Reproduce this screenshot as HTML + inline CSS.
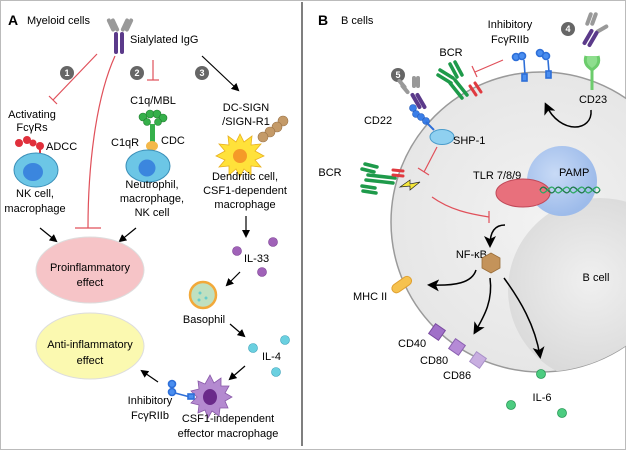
<!DOCTYPE html>
<html><head><meta charset="utf-8"><style>
html,body{margin:0;padding:0;background:#fff}
svg{display:block;font-family:"Liberation Sans",Arial,sans-serif}
</style></head><body>
<svg width="626" height="450" viewBox="0 0 626 450" xmlns="http://www.w3.org/2000/svg">
<defs>
<marker id="ah" markerWidth="8" markerHeight="8" refX="6" refY="4" orient="auto" markerUnits="userSpaceOnUse"><path d="M0,0 L8,4 L0,8 Z" fill="#000"/></marker>
<marker id="ah2" markerWidth="12" markerHeight="12" refX="9" refY="6" orient="auto" markerUnits="userSpaceOnUse"><path d="M0,0 L12,6 L0,12 L3,6 Z" fill="#000"/></marker>
<radialGradient id="cellg" cx="0.5" cy="0.5" r="0.6"><stop offset="0" stop-color="#f2f2f2"/><stop offset="1" stop-color="#e4e4e4"/></radialGradient>
<radialGradient id="nucg" cx="0.45" cy="0.45" r="0.6"><stop offset="0" stop-color="#f0f0f0"/><stop offset="1" stop-color="#d6d6d6"/></radialGradient>
<radialGradient id="pampg" cx="0.4" cy="0.4" r="0.6"><stop offset="0" stop-color="#c8daf6"/><stop offset="1" stop-color="#9dbbea"/></radialGradient>
<clipPath id="cc"><circle cx="541" cy="222" r="150"/></clipPath>
</defs>
<rect x="0.5" y="0.5" width="625" height="449" fill="#fff" stroke="#bbb"/>
<line x1="302" y1="2" x2="302" y2="446" stroke="#555" stroke-width="1.5"/>

<!-- ===== Panel A ===== -->
<text x="8" y="25" font-size="14" font-weight="bold">A</text>
<text x="27" y="24" font-size="11">Myeloid cells</text>
<g>
<rect x="109" y="18" width="4" height="14" rx="2" fill="#999" transform="rotate(-25 111 25)"/>
<rect x="113" y="18" width="4" height="14" rx="2" fill="#999" transform="rotate(-25 115 25)"/>
<rect x="123" y="18" width="4" height="14" rx="2" fill="#999" transform="rotate(25 125 25)"/>
<rect x="127" y="18" width="4" height="14" rx="2" fill="#999" transform="rotate(25 129 25)"/>
<rect x="114" y="32" width="4" height="22" rx="2" fill="#5b3a8a"/>
<rect x="120" y="32" width="4" height="22" rx="2" fill="#5b3a8a"/>
</g>
<text x="130" y="43" font-size="11">Sialylated IgG</text>
<g font-size="9" fill="#fff" text-anchor="middle" font-weight="bold">
<circle cx="67" cy="73" r="7" fill="#666"/><text x="67" y="76">1</text>
<circle cx="137" cy="73" r="7" fill="#666"/><text x="137" y="76">2</text>
<circle cx="202" cy="73" r="7" fill="#666"/><text x="202" y="76">3</text>
</g>
<g stroke="#e0505a" stroke-width="1.2" fill="none">
<line x1="97" y1="54" x2="53" y2="100"/><line x1="49" y1="96" x2="57" y2="104"/>
<path d="M115,56 C95,100 88,170 88,228"/><line x1="75" y1="228" x2="101" y2="228"/>
<line x1="153" y1="60" x2="153" y2="80"/><line x1="147" y1="80" x2="159" y2="80"/>
</g>
<line x1="202" y1="56" x2="238" y2="90" stroke="#000" stroke-width="1.2" marker-end="url(#ah)"/>
<text x="32" y="118" font-size="11" text-anchor="middle">Activating</text>
<text x="32" y="131" font-size="11" text-anchor="middle">FcγRs</text>
<text x="46" y="150" font-size="11">ADCC</text>
<g fill="#e0303c"><circle cx="19" cy="143" r="4"/><circle cx="27" cy="140" r="4"/><circle cx="33" cy="143" r="3.5"/><circle cx="40" cy="146" r="4"/></g>
<line x1="40" y1="146" x2="40" y2="160" stroke="#e0303c" stroke-width="2"/>
<ellipse cx="36" cy="170" rx="22" ry="17" fill="#6cc6e6" stroke="#3b8fb8"/>
<ellipse cx="33" cy="172" rx="10" ry="9" fill="#3b86de"/>
<text x="35" y="197" font-size="11" text-anchor="middle">NK cell,</text>
<text x="35" y="212" font-size="11" text-anchor="middle">macrophage</text>

<text x="153" y="104" font-size="11" text-anchor="middle">C1q/MBL</text>
<g fill="#35b04a" stroke="#1f7a2e" stroke-width="0.6">
<circle cx="143" cy="117" r="4"/><circle cx="150" cy="114" r="4"/><circle cx="157" cy="114" r="4"/><circle cx="163" cy="118" r="4"/><circle cx="147" cy="122" r="3.5"/><circle cx="158" cy="122" r="3.5"/>
</g>
<rect x="150" y="124" width="5" height="18" fill="#35b04a"/>
<ellipse cx="152" cy="146" rx="6" ry="5" fill="#f4b84a"/>
<text x="111" y="146" font-size="11">C1qR</text>
<text x="161" y="144" font-size="11">CDC</text>
<ellipse cx="148" cy="166" rx="22" ry="16" fill="#6cc6e6" stroke="#3b8fb8"/>
<circle cx="147" cy="168" r="8.5" fill="#3b86de"/>
<text x="152" y="188" font-size="11" text-anchor="middle">Neutrophil,</text>
<text x="152" y="202" font-size="11" text-anchor="middle">macrophage,</text>
<text x="152" y="216" font-size="11" text-anchor="middle">NK cell</text>

<text x="246" y="111" font-size="11" text-anchor="middle">DC-SIGN</text>
<text x="246" y="125" font-size="11" text-anchor="middle">/SIGN-R1</text>
<g fill="#c49a68" stroke="#9a7348" stroke-width="0.6"><circle cx="283" cy="121" r="5"/><circle cx="277" cy="127" r="5"/><circle cx="270" cy="132" r="5"/><circle cx="263" cy="137" r="5"/></g>
<polygon points="240,134 244,142 252,136 251,145 261,144 255,151 264,156 255,160 261,167 251,166 251,175 244,169 240,177 236,169 229,175 229,166 219,167 225,160 216,156 225,151 219,144 229,145 228,136 236,142" fill="#ffe23a" stroke="#e8b020" stroke-width="0.8"/>
<circle cx="240" cy="156" r="7" fill="#f59a28"/>
<text x="245" y="180" font-size="11" text-anchor="middle">Dendritic cell,</text>
<text x="245" y="194" font-size="11" text-anchor="middle">CSF1-dependent</text>
<text x="245" y="208" font-size="11" text-anchor="middle">macrophage</text>
<line x1="246" y1="216" x2="246" y2="236" stroke="#000" stroke-width="1.2" marker-end="url(#ah)"/>

<line x1="40" y1="228" x2="56" y2="241" stroke="#000" stroke-width="1.2" marker-end="url(#ah)"/>
<line x1="136" y1="228" x2="120" y2="241" stroke="#000" stroke-width="1.2" marker-end="url(#ah)"/>
<ellipse cx="90" cy="270" rx="54" ry="33" fill="#f6c4c7" stroke="#ddd"/>
<text x="90" y="271" font-size="11" text-anchor="middle">Proinflammatory</text>
<text x="90" y="286" font-size="11" text-anchor="middle">effect</text>
<ellipse cx="90" cy="346" rx="54" ry="33" fill="#fbf9b0" stroke="#ddd"/>
<text x="90" y="348" font-size="11" text-anchor="middle">Anti-inflammatory</text>
<text x="90" y="364" font-size="11" text-anchor="middle">effect</text>

<g fill="#a062b8" stroke="#7a3e92" stroke-width="0.6"><circle cx="237" cy="251" r="4.5"/><circle cx="273" cy="242" r="4.5"/><circle cx="262" cy="272" r="4.5"/></g>
<text x="244" y="262" font-size="11">IL-33</text>
<line x1="240" y1="272" x2="227" y2="285" stroke="#000" stroke-width="1.2" marker-end="url(#ah)"/>
<circle cx="203" cy="295" r="13" fill="#bfe0c0" stroke="#f2a93a" stroke-width="2.5"/>
<circle cx="200" cy="293" r="1.5" fill="#6cc"/><circle cx="206" cy="298" r="1.5" fill="#6cc"/><circle cx="199" cy="300" r="1.5" fill="#6cc"/>
<text x="204" y="323" font-size="11" text-anchor="middle">Basophil</text>
<line x1="230" y1="324" x2="244" y2="336" stroke="#000" stroke-width="1.2" marker-end="url(#ah)"/>
<g fill="#6ad0e0" stroke="#3aa0b8" stroke-width="0.6"><circle cx="253" cy="348" r="4.5"/><circle cx="285" cy="340" r="4.5"/><circle cx="276" cy="372" r="4.5"/></g>
<text x="262" y="360" font-size="11">IL-4</text>
<line x1="245" y1="366" x2="230" y2="379" stroke="#000" stroke-width="1.2" marker-end="url(#ah)"/>
<polygon points="210,375 214,383 221,378 221,386 229,386 225,393 232,397 225,401 228,408 220,408 219,416 212,411 208,418 205,410 198,413 199,405 191,403 197,397 191,391 199,389 198,381 205,384" fill="#b48ad0" stroke="#8858a8" stroke-width="0.8"/>
<ellipse cx="210" cy="397" rx="7" ry="8" fill="#6a2a8a"/>
<g stroke="#2e6fd8" stroke-width="1.6" fill="#4a8ef0">
<circle cx="172" cy="384" r="3.5"/><circle cx="172" cy="392" r="3.5"/>
<line x1="175" y1="393" x2="190" y2="397"/><rect x="188" y="394" width="6" height="5"/>
</g>
<line x1="158" y1="382" x2="142" y2="371" stroke="#000" stroke-width="1.2" marker-end="url(#ah)"/>
<text x="150" y="404" font-size="11" text-anchor="middle">Inhibitory</text>
<text x="150" y="419" font-size="11" text-anchor="middle">FcγRIIb</text>
<text x="228" y="422" font-size="11" text-anchor="middle">CSF1-independent</text>
<text x="228" y="437" font-size="11" text-anchor="middle">effector macrophage</text>

<!-- ===== Panel B ===== -->
<circle cx="541" cy="222" r="150" fill="url(#cellg)" stroke="#9a9a9a" stroke-width="1.5"/>
<g clip-path="url(#cc)"><circle cx="600" cy="290" r="92" fill="url(#nucg)"/></g>
<text x="596" y="281" font-size="11" text-anchor="middle">B cell</text>
<text x="318" y="25" font-size="14" font-weight="bold">B</text>
<text x="341" y="24" font-size="11">B cells</text>

<circle cx="562" cy="181" r="35" fill="url(#pampg)"/>
<text x="559" y="176" font-size="11">PAMP</text>
<text x="473" y="179" font-size="11">TLR 7/8/9</text>
<ellipse cx="523" cy="193" rx="27" ry="14" fill="#e8707c" stroke="#c04858"/>
<path d="M540,190 C545,180 550,200 555,190 C560,180 565,200 570,190 C575,180 580,200 585,190 C590,180 595,200 600,190" stroke="#1e7a4a" stroke-width="1.3" fill="none"/>
<path d="M540,190 C545,200 550,180 555,190 C560,200 565,180 570,190 C575,200 580,180 585,190 C590,200 595,180 600,190" stroke="#2ea864" stroke-width="1.3" fill="none"/>

<text x="510" y="28" font-size="11" text-anchor="middle">Inhibitory</text>
<text x="510" y="43" font-size="11" text-anchor="middle">FcγRIIb</text>
<g stroke="#2e6fd8" stroke-width="1.6" fill="#4a8ef0">
<circle cx="516" cy="57" r="3.5"/><circle cx="522" cy="56" r="3.5"/><line x1="524" y1="60" x2="525" y2="75"/><rect x="522" y="74" width="5" height="7"/>
<circle cx="540" cy="53" r="3.5"/><circle cx="546" cy="56" r="3.5"/><line x1="548" y1="60" x2="549" y2="72"/><rect x="546" y="71" width="5" height="7"/>
</g>
<circle cx="568" cy="29" r="7" fill="#666"/><text x="568" y="32" font-size="9" fill="#fff" text-anchor="middle" font-weight="bold">4</text>
<g>
<rect x="587" y="12" width="4" height="14" rx="2" fill="#999" transform="rotate(20 589 19)"/>
<rect x="592" y="12" width="4" height="14" rx="2" fill="#999" transform="rotate(20 594 19)"/>
<rect x="600" y="22" width="4" height="14" rx="2" fill="#999" transform="rotate(60 602 29)"/>
<rect x="586" y="28" width="4" height="18" rx="2" fill="#5b3a8a" transform="rotate(30 588 37)"/>
<rect x="591" y="30" width="4" height="18" rx="2" fill="#5b3a8a" transform="rotate(30 593 39)"/>
</g>
<path d="M586,56 C583,65 590,68 592,70 C594,68 601,65 598,56 M592,70 L592,90" stroke="#6ccc6c" stroke-width="3" fill="#8ede8e"/>
<text x="593" y="103" font-size="11" text-anchor="middle">CD23</text>
<path d="M591,110 C593,132 560,135 546,105" stroke="#000" stroke-width="1.5" fill="none" marker-end="url(#ah2)"/>

<text x="451" y="56" font-size="11" text-anchor="middle">BCR</text>
<g stroke="#1e9a4a" stroke-width="3.5" stroke-linecap="round">
<line x1="455" y1="62" x2="462" y2="75"/><line x1="450" y1="64" x2="457" y2="77"/>
<line x1="440" y1="70" x2="453" y2="78"/><line x1="438" y1="75" x2="451" y2="83"/>
<line x1="455" y1="80" x2="467" y2="95"/><line x1="450" y1="83" x2="462" y2="98"/>
</g>
<g stroke="#e03a40" stroke-width="3" stroke-linecap="round"><line x1="470" y1="86" x2="476" y2="95"/><line x1="475" y1="83" x2="481" y2="92"/></g>
<g stroke="#e0505a" stroke-width="1.2"><line x1="503" y1="60" x2="475" y2="72"/><line x1="472" y1="66" x2="477" y2="77"/></g>

<circle cx="398" cy="75" r="7" fill="#666"/><text x="398" y="78" font-size="9" fill="#fff" text-anchor="middle" font-weight="bold">5</text>
<g>
<rect x="400" y="78" width="4" height="12" rx="2" fill="#999" transform="rotate(-40 402 84)"/>
<rect x="403" y="83" width="4" height="12" rx="2" fill="#999" transform="rotate(-40 405 89)"/>
<rect x="412" y="76" width="4" height="12" rx="2" fill="#999"/>
<rect x="416" y="76" width="4" height="12" rx="2" fill="#999"/>
<rect x="414" y="92" width="4" height="18" rx="2" fill="#5b3a8a" transform="rotate(-30 416 101)"/>
<rect x="419" y="92" width="4" height="18" rx="2" fill="#5b3a8a" transform="rotate(-30 421 101)"/>
</g>
<g fill="#3a7ee8" stroke="#2258b8" stroke-width="0.6">
<circle cx="413" cy="108" r="3.5"/><circle cx="416" cy="114" r="3.5"/><circle cx="421" cy="117" r="3.5"/><circle cx="426" cy="121" r="3.5"/>
</g>
<line x1="426" y1="122" x2="434" y2="130" stroke="#2e6fd8" stroke-width="2"/>
<text x="378" y="124" font-size="11" text-anchor="middle">CD22</text>
<ellipse cx="442" cy="137" rx="12" ry="7.5" fill="#8fd0f0" stroke="#4a9ccc"/>
<text x="453" y="144" font-size="11">SHP-1</text>
<g stroke="#e0505a" stroke-width="1.2" fill="none">
<path d="M437,147 L424,172"/><line x1="418" y1="168" x2="429" y2="175"/>
<path d="M432,197 C450,210 470,214 489,217"/><line x1="489" y1="211" x2="489" y2="223"/>
</g>
<text x="330" y="176" font-size="11" text-anchor="middle">BCR</text>
<g stroke="#1e9a4a" stroke-width="3.5" stroke-linecap="round">
<line x1="365" y1="164" x2="377" y2="167"/><line x1="362" y1="169" x2="374" y2="172"/>
<line x1="368" y1="175" x2="395" y2="178"/><line x1="366" y1="180" x2="393" y2="183"/>
<line x1="362" y1="186" x2="375" y2="188"/><line x1="363" y1="191" x2="376" y2="193"/>
</g>
<g stroke="#e03a40" stroke-width="3" stroke-linecap="round"><line x1="393" y1="170" x2="403" y2="171"/><line x1="393" y1="175" x2="403" y2="176"/></g>
<polygon points="400,187 410,180 410,184 420,182 410,190 410,186" fill="#f6e83a" stroke="#222" stroke-width="0.7"/>

<path d="M505,225 C495,225 490,232 490,245" stroke="#000" stroke-width="1.5" fill="none" marker-end="url(#ah2)"/>
<text x="487" y="258" font-size="11" text-anchor="end">NF-κB</text>
<polygon points="491,253 500,258 500,268 491,273 482,268 482,258" fill="#c4935a" stroke="#9a6e3a" stroke-width="0.8"/>
<rect x="391" y="280" width="22" height="9" rx="4.5" fill="#f6c24e" stroke="#e0a030" transform="rotate(-35 402 285)"/>
<text x="353" y="300" font-size="11">MHC II</text>
<path d="M476,270 C472,283 455,286 430,285" stroke="#000" stroke-width="1.5" fill="none" marker-end="url(#ah2)"/>
<path d="M490,278 C493,300 485,315 475,332" stroke="#000" stroke-width="1.5" fill="none" marker-end="url(#ah2)"/>
<path d="M504,278 C520,300 535,325 540,356" stroke="#000" stroke-width="1.5" fill="none" marker-end="url(#ah2)"/>
<rect x="431" y="326" width="12" height="12" fill="#a070c8" stroke="#7a4aa0" transform="rotate(35 437 332)"/>
<rect x="451" y="341" width="12" height="12" fill="#b58ad6" stroke="#8a60b0" transform="rotate(35 457 347)"/>
<rect x="472" y="354" width="12" height="12" fill="#c8aee0" stroke="#a890c8" transform="rotate(35 478 360)"/>
<text x="398" y="347" font-size="11">CD40</text>
<text x="420" y="364" font-size="11">CD80</text>
<text x="443" y="379" font-size="11">CD86</text>
<g fill="#4ccc80" stroke="#2a9a58" stroke-width="0.8"><circle cx="541" cy="374" r="4.5"/><circle cx="511" cy="405" r="4.5"/><circle cx="562" cy="413" r="4.5"/></g>
<text x="542" y="401" font-size="11" text-anchor="middle">IL-6</text>
</svg>
</body></html>
